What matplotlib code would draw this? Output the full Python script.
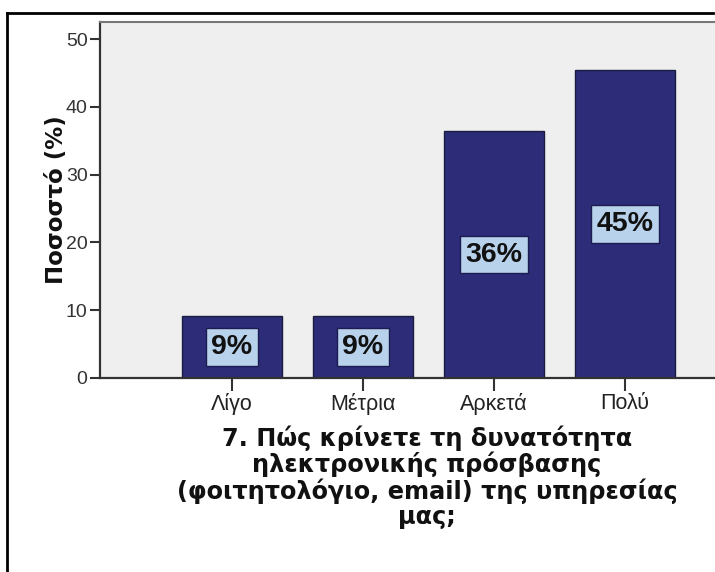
import matplotlib
matplotlib.use("Agg")
import matplotlib.pyplot as plt
from matplotlib.lines import Line2D

categories = ["Λίγο", "Μέτρια", "Αρκετά", "Πολύ"]
values = [9.09, 9.09, 36.36, 45.45]
labels = ["9%", "9%", "36%", "45%"]
yticks = [0, 10, 20, 30, 40, 50]
ylabel = "Ποσοστό (%)"
title = "7. Πώς κρίνετε τη δυνατότητα\nηλεκτρονικής πρόσβασης\n(φοιτητολόγιο, email) της υπηρεσίας\nμας;"

W, H = 715, 572
fig = plt.figure(figsize=(W / 100, H / 100), dpi=100)
fig.patch.set_facecolor("white")

ax_l, ax_r, ax_t, ax_b = 100, 722, 22, 378
ax = fig.add_axes([ax_l / W, 1 - ax_b / H, (ax_r - ax_l) / W, (ax_b - ax_t) / H])
ax.set_facecolor("#efefef")

x = list(range(len(categories)))
bars = ax.bar(x, values, width=0.765, color="#2c2c78", edgecolor="#1c1c40", linewidth=1.0, zorder=2)

for xi, v, lab in zip(x, values, labels):
    ax.text(xi, v / 2, lab, ha="center", va="center", fontsize=20.5, fontweight="bold",
            family="Liberation Sans", color="#111111", zorder=3,
            bbox=dict(boxstyle="square,pad=0.2", facecolor="#b8d2ec", edgecolor="#1c1c50", linewidth=1.0))

ax.set_xlim(-1.008, (ax_r - 232) / 131)
ax.set_ylim(0, (ax_b - ax_t) / 6.78)
ax.set_yticks(yticks)
ax.set_yticklabels([str(t) for t in yticks], family="Liberation Sans", fontsize=14, color="#333333")
ax.set_xticks(x)
ax.set_xticklabels(categories, family="Liberation Sans", fontsize=15.5, color="#222222")
ax.tick_params(axis="y", direction="out", length=7, width=1.5, color="#333333", pad=2)
ax.tick_params(axis="x", direction="out", length=9, width=1.5, color="#333333", pad=2)

for s in ["left", "bottom"]:
    ax.spines[s].set_color("#333333")
    ax.spines[s].set_linewidth(1.6)
ax.spines["top"].set_color("#777777")
ax.spines["top"].set_linewidth(1.5)
ax.spines["right"].set_visible(False)

fig.text(56 / W, 1 - 200 / H, ylabel, rotation=90, ha="center", va="center",
         fontsize=16.5, fontweight="bold", family="DejaVu Sans", color="#111111")

fig.text(427 / W, 1 - 477 / H, title, ha="center", va="center", multialignment="center",
         fontsize=17.3, fontweight="bold", family="DejaVu Sans", color="#111111", linespacing=1.05)

# frame lines
fig.add_artist(Line2D([7 / W, 7 / W], [0, 1 - 13 / H], transform=fig.transFigure, color="black", linewidth=2))
fig.add_artist(Line2D([7 / W, 713 / W], [1 - 13 / H, 1 - 13 / H], transform=fig.transFigure, color="black", linewidth=2))

fig.savefig("out.png", dpi=100, facecolor="white")
